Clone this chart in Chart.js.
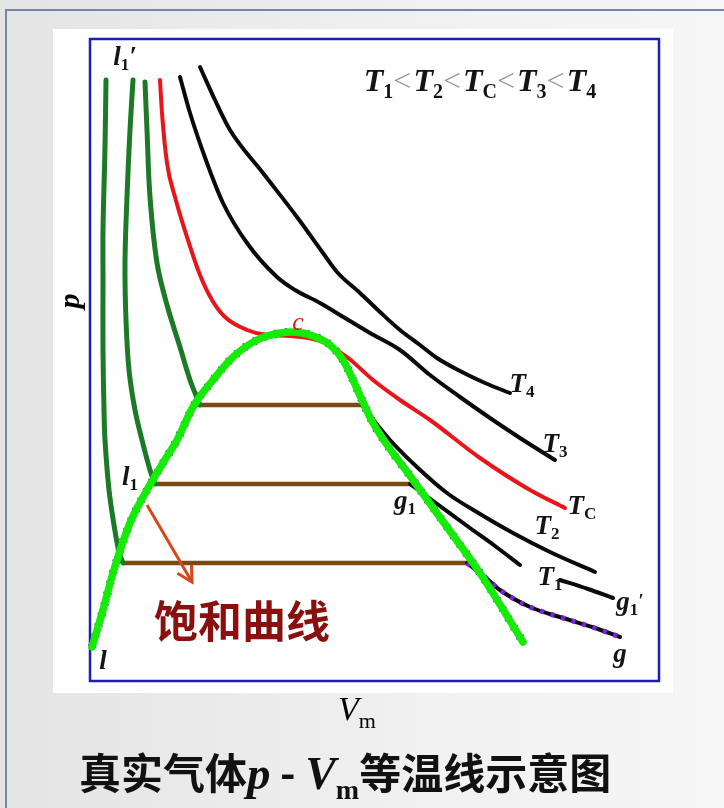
<!DOCTYPE html>
<html>
<head>
<meta charset="utf-8">
<script src="https://cdn.jsdelivr.net/npm/chart.js@4.4.1/dist/chart.umd.min.js"></script>
<style>
  body { margin: 0; width: 724px; height: 808px; overflow: hidden; position: relative;
         background: linear-gradient(to right, #e4e4e4, #f1f1f1 60%, #f6f6f6); }
  .rule-top { position: absolute; left: 5px; top: 9px; width: 719px; height: 2px; background: #7189a6; }
  .rule-left { position: absolute; left: 5px; top: 9px; width: 2px; height: 799px; background: #7189a6; }
  #paper { position: absolute; left: 53px; top: 29px; width: 620px; height: 664px; background: #fff; }
  #c { position: absolute; left: 0; top: 0; }
  .serif { font-family: "Liberation Serif", "DejaVu Serif", serif; }
  #plabel { position: absolute; left: 54px; top: 284px; font-size: 30px; font-style: italic; font-weight: bold;
            transform: rotate(-90deg); transform-origin: center; width: 30px; text-align: center; }
  #vlabel { position: absolute; left: 338px; top: 690px; font-size: 34px; font-style: italic; }
  #vlabel sub { font-style: normal; font-size: 22px; vertical-align: -8px; }
  #title { position: absolute; left: 79px; top: 740px; font-size: 42px; font-weight: bold; white-space: nowrap;
           font-family: "Noto Sans CJK SC", sans-serif; color: #111; }
  #title i { font-family: "Liberation Serif", serif; font-weight: bold; font-size: 47px; }
  #title .v { font-family: "Liberation Serif", serif; font-weight: bold; font-style: italic; font-size: 46px; }
  #title sub { font-family: "Liberation Serif", serif; font-weight: bold; font-size: 28px; vertical-align: -10px; }
</style>
</head>
<body>
<div class="rule-top"></div>
<div class="rule-left"></div>
<div id="paper"></div>
<canvas id="c" width="724" height="808"></canvas>
<div id="plabel" class="serif">p</div>
<div id="vlabel" class="serif">V<sub>m</sub></div>
<div id="title">真实气体<i>p</i> - <span class="v">V</span><sub>m</sub>等温线示意图</div>

<script>
// 液相支 (三条低于临界温度的等温线)
const vmLiq1 = [1.6, 1.5, 1.3, 1.3, 1.3, 1.4, 1.5, 1.9, 2.4, 2.9, 3.3];
const pLiq1  = [60.1, 53.4, 45.1, 40.1, 33.1, 27.1, 24.1, 19.1, 15.6, 12.9, 11.8];
const vmLiq2 = [4.3, 4.0, 3.7, 3.5, 3.6, 3.9, 4.5, 5.2, 6.0, 6.5];
const pLiq2  = [60.1, 55.1, 48.4, 41.8, 36.1, 31.1, 27.1, 24.1, 21.1, 19.7];
const vmLiq3 = [5.5, 5.7, 6.0, 6.7, 7.7, 9.0, 10.0, 11.0];
const pLiq3  = [59.9, 55.1, 48.4, 41.8, 37.6, 33.4, 30.1, 27.6];

// 气液共存水平线
const tieP     = [27.6, 19.7, 11.8];
const tieLeft  = [11.0, 6.5, 3.3];
const tieRight = [27.2, 32.0, 37.7];

// 气相支
const vmGasT2 = [27.2, 28.5, 30.0, 32.8, 35.7, 39.0, 42.3, 46.0, 50.5];
const pGasT2  = [27.6, 25.9, 24.1, 21.3, 18.8, 16.7, 14.8, 12.9, 10.9];
const vmGasT1 = [32.0, 35.0, 38.0, 40.5, 43.0, null, 47.0, 49.8, 52.3];
const pGasT1  = [19.7, 17.5, 15.3, 13.5, 11.6, null, 10.1, 9.2, 8.3];
const vmGasLow = [37.7, 39.5, 41.0, 44.0, 47.3, 50.5, 53.0];
const pGasLow  = [11.8, 10.4, 9.1, 7.4, 6.3, 5.3, 4.4];

// 临界等温线 Tc
const vmTc = [7.0, 7.2, 7.7, 8.5, 9.7, 11.0, 12.2, 13.5, 15.7, 17.7, 20.0, 23.0, 25.7, 28.3, 31.0, 34.0, 39.0, 44.0, 47.5];
const pTc  = [60.1, 56.8, 51.8, 48.4, 44.4, 40.6, 38.1, 36.4, 35.1, 34.6, 34.5, 34.0, 32.4, 30.1, 28.1, 26.1, 22.3, 19.1, 17.3];

// 高于临界温度的 T3、T4
const vmT3 = [9.0, 10.0, 11.7, 13.3, 15.7, 18.7, 20.5, 23.0, 25.5, 28.0, 31.0, 34.0, 37.0, 40.0, 43.0, 46.5];
const pT3  = [60.4, 56.8, 51.8, 47.8, 43.8, 40.4, 39.1, 37.8, 36.3, 34.8, 33.1, 30.6, 28.4, 26.3, 24.3, 22.1];
const vmT4 = [11.0, 12.5, 14.0, 17.3, 20.7, 23.3, 24.7, 27.0, 29.0, 31.0, 33.0, 34.7, 37.0, 39.5, 42.0];
const pT4  = [61.4, 58.1, 55.1, 50.8, 46.4, 42.8, 40.9, 38.8, 36.9, 35.1, 33.6, 32.3, 31.0, 29.8, 28.8];

// 饱和曲线
const vmSat = [0.2, 1.3, 2.3, 4.0, 5.7, 7.3, 8.7, 10.3, 12.3, 14.3, 16.7, 19.0, 20.2, 22.3, 24.0, 25.3, 26.3, 27.2, 28.3, 32.3, 35.7, 39.0, 43.3];
const pSat  = [3.4, 7.1, 10.8, 15.8, 19.1, 21.8, 24.1, 27.4, 30.1, 32.4, 34.1, 34.8, 34.9, 34.5, 33.6, 32.1, 30.1, 28.1, 25.8, 20.1, 15.4, 10.8, 3.9];

// 指向饱和曲线的箭头
const arrowVm = [5.7, 10.2];
const arrowP  = [17.6, 9.9];

// 图中文字标注: [Vm, p, 内容]
const labels = [
  [3.5, 62.3, [['l', 'i'], ['1', 's'], ['′', 'i']]],
  [4.0, 20.3, [['l', 'i'], ['1', 's']]],
  [1.3, 1.9,  [['l', 'i']]],
  [31.5, 17.9, [['g', 'i'], ['1', 's']]],
  [54.0, 7.8, [['g', 'i'], ['1', 's'], ['′', 'sup']]],
  [53.0, 2.6, [['g', 'i']]],
  [43.2, 29.6, [['T', 'i'], ['4', 's']]],
  [46.5, 23.6, [['T', 'i'], ['3', 's']]],
  [49.2, 17.4, [['T', 'i'], ['C', 's']]],
  [45.7, 15.4, [['T', 'i'], ['2', 's']]],
  [46.0, 10.3, [['T', 'i'], ['1', 's']]]
];
const orderText = [['T', 'b'], ['1', 'bs'], ['<', 'op'], ['T', 'b'], ['2', 'bs'], ['<', 'op'], ['T', 'b'], ['C', 'bs'],
                   ['<', 'op'], ['T', 'b'], ['3', 'bs'], ['<', 'op'], ['T', 'b'], ['4', 'bs']];
const orderPos = [39.0, 59.8];
const critPos = [20.8, 35.8];
const satTextPos = [15.2, 6.0];

function pts(xs, ys) {
  return xs.map((x, i) => (x === null ? { x: null, y: null } : { x: x, y: ys[i] }));
}

function line(data, color, width, order, extra) {
  return Object.assign({ data: data, borderColor: color, borderWidth: width, order: order,
    showLine: true, pointRadius: 0, tension: 0.35, fill: false, borderCapStyle: 'round', borderJoinStyle: 'round' }, extra || {});
}

const GREEN = '#1c7a26', RED = '#e8161a', BLACK = '#0a0a0a', BROWN = '#7a4a12', LIME = '#14ec06', PURPLE = '#7a22e0';
const smooth = { cubicInterpolationMode: 'monotone' };

const datasets = [
  line(pts(vmSat, pSat), PURPLE, 8.5, 9, Object.assign({ borderDash: [2, 9], borderCapStyle: 'butt' }, smooth)),
  line(pts(vmLiq1, pLiq1), GREEN, 5, 6),
  line(pts(vmLiq2, pLiq2), GREEN, 5, 6),
  line(pts(vmLiq3, pLiq3), GREEN, 5, 6),
  line(pts(vmGasT2, pGasT2), BLACK, 4, 6, smooth),
  line(pts(vmGasT1, pGasT1), BLACK, 4, 6, Object.assign({ spanGaps: false }, smooth)),
  line(pts(vmGasLow, pGasLow), BLACK, 4, 6, smooth),
  line(pts(vmGasLow, pGasLow), PURPLE, 5, 5, Object.assign({ borderDash: [4, 7], borderCapStyle: 'butt' }, smooth)),
  line(pts(vmTc, pTc), RED, 4, 6, smooth),
  line(pts(vmT3, pT3), BLACK, 4, 6, smooth),
  line(pts(vmT4, pT4), BLACK, 4, 6, smooth),
  line(pts(vmSat, pSat), LIME, 7.5, 2, smooth),
  line(pts(arrowVm, arrowP), '#d8461c', 3, 1, { tension: 0, borderCapStyle: 'butt' })
];
tieP.forEach((p, i) => {
  datasets.push(line(pts([tieLeft[i], tieRight[i]], [p, p]), BROWN, 4.5, 7, { tension: 0, borderCapStyle: 'butt' }));
});

const SERIF = '"Liberation Serif", "DejaVu Serif", serif';

function fontFor(kind, size) {
  if (kind === 'i' || kind === 'b') return 'italic bold ' + size + 'px ' + SERIF;
  if (kind === 's' || kind === 'bs') return 'bold ' + Math.round(size * 0.62) + 'px ' + SERIF;
  if (kind === 'sup') return 'italic bold ' + Math.round(size * 0.7) + 'px ' + SERIF;
  return size + 'px ' + SERIF;
}

function drawRich(ctx, x, y, parts, size) {
  let w = 0;
  parts.forEach(([t, k]) => { ctx.font = fontFor(k, size); w += ctx.measureText(t).width + (k === 'op' ? 2 : 0); });
  let cx = x - w / 2;
  parts.forEach(([t, k]) => {
    ctx.font = fontFor(k, size);
    let dy = 0;
    if (k === 's' || k === 'bs') dy = size * 0.3;
    if (k === 'sup') dy = -size * 0.05;
    ctx.fillStyle = k === 'op' ? '#9a9a9a' : '#141414';
    ctx.fillText(t, cx, y + dy);
    cx += ctx.measureText(t).width + (k === 'op' ? 2 : 0);
  });
}

const annotations = {
  id: 'annotations',
  beforeDatasetsDraw(chart) {
    const { ctx, chartArea: a } = chart;
    ctx.save();
    ctx.strokeStyle = '#1e1eb4';
    ctx.lineWidth = 2.5;
    ctx.strokeRect(a.left, a.top, a.right - a.left, a.bottom - a.top);
    ctx.restore();
  },
  afterDatasetsDraw(chart) {
    const { ctx, scales: { x, y } } = chart;
    ctx.save();
    ctx.textBaseline = 'middle';
    ctx.textAlign = 'left';

    // 箭头头部
    const x0 = x.getPixelForValue(arrowVm[0]), y0 = y.getPixelForValue(arrowP[0]);
    const x1 = x.getPixelForValue(arrowVm[1]), y1 = y.getPixelForValue(arrowP[1]);
    const ang = Math.atan2(y1 - y0, x1 - x0);
    ctx.strokeStyle = '#d8461c';
    ctx.lineWidth = 3;
    ctx.beginPath();
    ctx.moveTo(x1 - 17 * Math.cos(ang - 0.5), y1 - 17 * Math.sin(ang - 0.5));
    ctx.lineTo(x1, y1);
    ctx.lineTo(x1 - 17 * Math.cos(ang + 0.5), y1 - 17 * Math.sin(ang + 0.5));
    ctx.stroke();

    labels.forEach(([vm, p, parts]) => {
      drawRich(ctx, x.getPixelForValue(vm), y.getPixelForValue(p), parts, 27);
    });
    drawRich(ctx, x.getPixelForValue(orderPos[0]), y.getPixelForValue(orderPos[1]), orderText, 32);

    ctx.font = 'italic 26px ' + SERIF;
    ctx.fillStyle = '#d81a1a';
    ctx.textAlign = 'center';
    ctx.fillText('c', x.getPixelForValue(critPos[0]), y.getPixelForValue(critPos[1]));

    ctx.font = 'bold 44px "Noto Sans CJK SC", sans-serif';
    ctx.fillStyle = '#8a0f0f';
    ctx.fillText('饱和曲线', x.getPixelForValue(satTextPos[0]), y.getPixelForValue(satTextPos[1]));
    ctx.restore();
  }
};

new Chart(document.getElementById('c'), {
  type: 'scatter',
  data: { datasets: datasets },
  options: {
    responsive: false,
    animation: false,
    layout: { padding: { left: 90, top: 39, right: 65, bottom: 127 } },
    plugins: { legend: { display: false }, tooltip: { enabled: false } },
    scales: {
      x: { type: 'linear', min: 0, max: 56.9, display: false },
      y: { type: 'linear', min: 0, max: 64.2, display: false }
    },
    datasets: { scatter: { clip: false } }
  },
  plugins: [annotations]
});
</script>
</body>
</html>
